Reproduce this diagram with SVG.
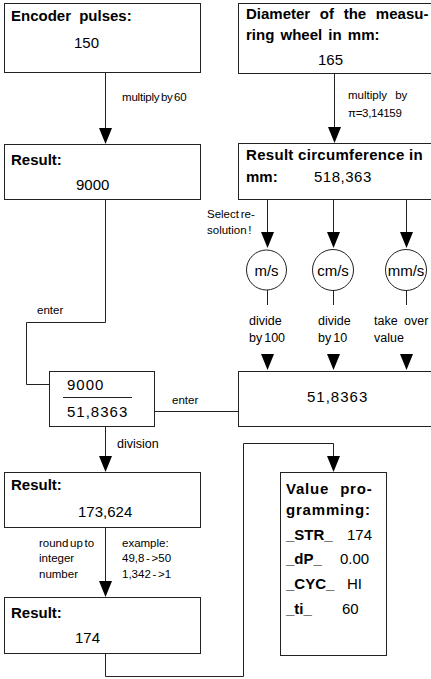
<svg xmlns="http://www.w3.org/2000/svg" xmlns:xlink="http://www.w3.org/1999/xlink" width="431" height="679" viewBox="0 0 431 679">
<style>
text{font-family:"Liberation Sans",Arial,sans-serif;fill:#000}
.b{font-weight:bold;font-size:15px}
.v{font-size:15px}
.s{font-size:11.5px}
.m{font-size:12.5px}
.c{word-spacing:-1.5px}
.box{fill:#fff;stroke:#222;stroke-width:1}
.ln{fill:none;stroke:#222;stroke-width:1}
.ah{fill:#000}
</style>
<defs>
<path id="ah" class="ah" d="M-6.5,-16 L6.5,-16 L0,0 Z"/>
</defs>
<rect width="431" height="679" fill="#fff"/>
<g id="connectors">
<path class="ln" d="M105.5,72 V130"/>
<use xlink:href="#ah" x="105.5" y="144"/>
<path class="ln" d="M334.5,73 V130"/>
<use xlink:href="#ah" x="334.5" y="143"/>
<path class="ln" d="M267.5,199 V235 M333.5,199 V235 M406.5,199 V235"/>
<use xlink:href="#ah" x="267.5" y="248"/>
<use xlink:href="#ah" x="333.5" y="248"/>
<use xlink:href="#ah" x="406.5" y="248"/>
<path class="ln" d="M267.5,290 V305 M333.5,290 V305 M406.5,290 V305"/>
<use xlink:href="#ah" x="267.5" y="370"/>
<use xlink:href="#ah" x="333.5" y="370"/>
<use xlink:href="#ah" x="406.5" y="370"/>
<path class="ln" d="M105.5,199 V322.5 H26.5 V384.5 H49"/>
<path class="ln" d="M155,411.5 H238"/>
<path class="ln" d="M105.5,426 V460"/>
<use xlink:href="#ah" x="105.5" y="472"/>
<path class="ln" d="M105.5,527 V585"/>
<use xlink:href="#ah" x="105.5" y="597"/>
<path class="ln" d="M105.5,653 V676.5 H243.5 V443.5 H333.5 V460"/>
<use xlink:href="#ah" x="333.5" y="472"/>
<text class="s c" x="122" y="101" letter-spacing="-0.2">multiply by 60</text>
<text class="s" x="348" y="99" word-spacing="5">multiply by</text>
<text class="s" x="348" y="117" letter-spacing="-0.3">π=3,14159</text>
<text class="s c" x="207" y="218">Select re-</text>
<text class="s c" x="207" y="234">solution !</text>
<text class="m" x="249" y="325">divide</text>
<text class="m c" x="249" y="342">by 100</text>
<text class="m" x="318" y="325">divide</text>
<text class="m c" x="318" y="342">by 10</text>
<text class="m" x="374" y="325" word-spacing="3">take over</text>
<text class="m" x="374" y="342">value</text>
<text class="s" x="37" y="314">enter</text>
<text class="s" x="172" y="404">enter</text>
<text class="m" x="117" y="448">division</text>
<text class="s c" x="39" y="547">round up to</text>
<text class="s" x="39" y="562">integer</text>
<text class="s" x="39" y="578">number</text>
<text class="s" x="122" y="547">example:</text>
<text class="s" x="122" y="562" word-spacing="-1.5">49,8 - &gt;50</text>
<text class="s" x="122" y="578" word-spacing="-1.5">1,342 - &gt;1</text>
</g>
<g id="encoder">
<rect class="box" x="4.5" y="3.5" width="196" height="69"/>
<text class="b" x="11" y="21" word-spacing="4">Encoder pulses:</text>
<text class="v" x="74" y="48">150</text>
</g>
<g id="result1">
<rect class="box" x="4.5" y="144.5" width="196" height="55"/>
<text class="b" x="11" y="165">Result:</text>
<text class="v" x="76" y="190">9000</text>
</g>
<g id="diameter">
<rect class="box" x="238.5" y="3.5" width="200" height="70"/>
<text class="b" x="246" y="19" word-spacing="5.5">Diameter of the measu-</text>
<text class="b" x="246" y="40" word-spacing="2">ring wheel in mm:</text>
<text class="v" x="318" y="65">165</text>
</g>
<g id="circumference">
<rect class="box" x="238.5" y="143.5" width="200" height="56"/>
<text class="b" x="246" y="160" letter-spacing="0.3">Result circumference in</text>
<text class="b" x="246" y="182">mm:</text>
<text class="v" x="314" y="182" letter-spacing="0.5">518,363</text>
</g>
<g id="ms">
<circle class="box" cx="266.5" cy="270" r="20"/>
<text class="v" x="266.5" y="276" text-anchor="middle">m/s</text>
</g>
<g id="cms">
<circle class="box" cx="333" cy="270" r="20.5"/>
<text class="v" x="333" y="276" text-anchor="middle">cm/s</text>
</g>
<g id="mms">
<circle class="box" cx="406" cy="270" r="20.5"/>
<text class="v" x="406" y="276" text-anchor="middle">mm/s</text>
</g>
<g id="speed">
<rect class="box" x="238.5" y="371.5" width="200" height="55"/>
<text class="v" x="307" y="402" letter-spacing="1">51,8363</text>
</g>
<g id="fraction">
<rect class="box" x="49.5" y="371.5" width="105" height="55"/>
<text class="v" x="67" y="390" letter-spacing="1">9000</text>
<path class="ln" d="M63,397.5 H132"/>
<text class="v" x="67" y="417" letter-spacing="1">51,8363</text>
</g>
<g id="result2">
<rect class="box" x="4.5" y="472.5" width="196" height="55"/>
<text class="b" x="11" y="490">Result:</text>
<text class="v" x="78" y="517">173,624</text>
</g>
<g id="result3">
<rect class="box" x="4.5" y="597.5" width="196" height="56"/>
<text class="b" x="11" y="618">Result:</text>
<text class="v" x="75" y="643">174</text>
</g>
<g id="programming">
<rect class="box" x="280.5" y="472.5" width="106" height="183"/>
<text class="b" x="286" y="494" word-spacing="6" letter-spacing="0.8">Value pro-</text>
<text class="b" x="286" y="515" letter-spacing="0.8">gramming:</text>
<text class="b" x="286" y="540">_STR_</text>
<text class="v" x="347" y="540">174</text>
<text class="b" x="286" y="564">_dP_</text>
<text class="v" x="340" y="564">0.00</text>
<text class="b" x="286" y="589">_CYC_</text>
<text class="v" x="347" y="589">HI</text>
<text class="b" x="286" y="614">_ti_</text>
<text class="v" x="342" y="614">60</text>
</g>
</svg>
